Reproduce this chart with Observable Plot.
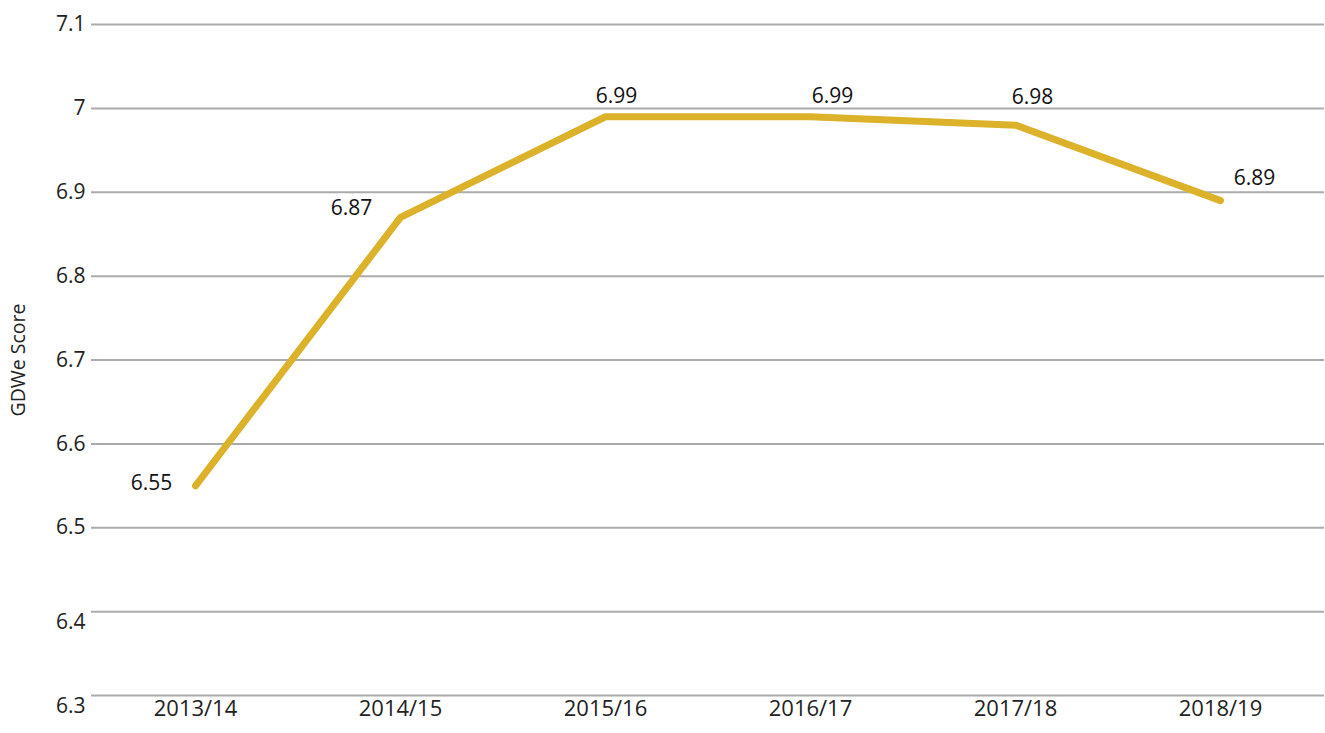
<!DOCTYPE html>
<html>
<head>
<meta charset="utf-8">
<script src="https://cdn.jsdelivr.net/npm/d3@7"></script>
<script src="https://cdn.jsdelivr.net/npm/@observablehq/plot@0.6"></script>
<style>
  html, body { margin: 0; padding: 0; background: #fff; }
  #chart svg { display: block; }
</style>
</head>
<body>
<div id="chart"></div>
<script>
const years = ["2013/14", "2014/15", "2015/16", "2016/17", "2017/18", "2018/19"];
const scores = [6.55, 6.87, 6.99, 6.99, 6.98, 6.89];
const yTicks = [6.3, 6.4, 6.5, 6.6, 6.7, 6.8, 6.9, 7.0, 7.1];
const yTitle = "GDWe Score";

const data = years.map((y, i) => ({year: y, score: scores[i], i}));
const fmt = d => String(+d.toFixed(2));
const font = "'Open Sans', 'Noto Sans', sans-serif";

const labelOffsets = [
  {dx: -44, dy: -3},
  {dx: -49, dy: -9},
  {dx: 11, dy: -20},
  {dx: 22, dy: -20},
  {dx: 17, dy: -28},
  {dx: 34, dy: -22}
];

const chart = Plot.plot({
  width: 1325,
  height: 733,
  marginTop: 24,
  marginBottom: 38,
  marginLeft: 91,
  marginRight: 1,
  style: {fontFamily: font, fontSize: "21px", color: "#222", background: "#fff"},
  x: {type: "point", domain: years, padding: 0.5},
  y: {domain: [6.3, 7.1]},
  marks: [
    Plot.gridY(yTicks, {stroke: "#ababab", strokeOpacity: 1, strokeWidth: 2}),
    Plot.axisY(yTicks.filter(t => t >= 6.45), {tickSize: 0, tickPadding: 6, tickFormat: d => String(+d.toFixed(1)), label: null, fontSize: 21, fill: "#222"}),
    Plot.axisY(yTicks.filter(t => t < 6.45), {tickSize: 0, tickPadding: 6, dy: 11, tickFormat: d => String(+d.toFixed(1)), label: null, fontSize: 21, fill: "#222"}),
    Plot.axisX({tickSize: 0, tickPadding: 5, label: null, fontSize: 22, fill: "#222"}),
    Plot.text([yTitle], {frameAnchor: "left", textAnchor: "middle", dx: -73, rotate: -90, fontSize: 19.5, fill: "#222"}),
    Plot.line(data, {x: "year", y: "score", stroke: "#dbb22a", strokeWidth: 7, strokeLinecap: "round", strokeLinejoin: "round"}),
    ...data.map((d, i) => Plot.text([d], {x: "year", y: "score", text: e => fmt(e.score), dx: labelOffsets[i].dx, dy: labelOffsets[i].dy, fontSize: 21, fill: "#111"}))
  ]
});
document.getElementById("chart").appendChild(chart);
</script>
</body>
</html>
